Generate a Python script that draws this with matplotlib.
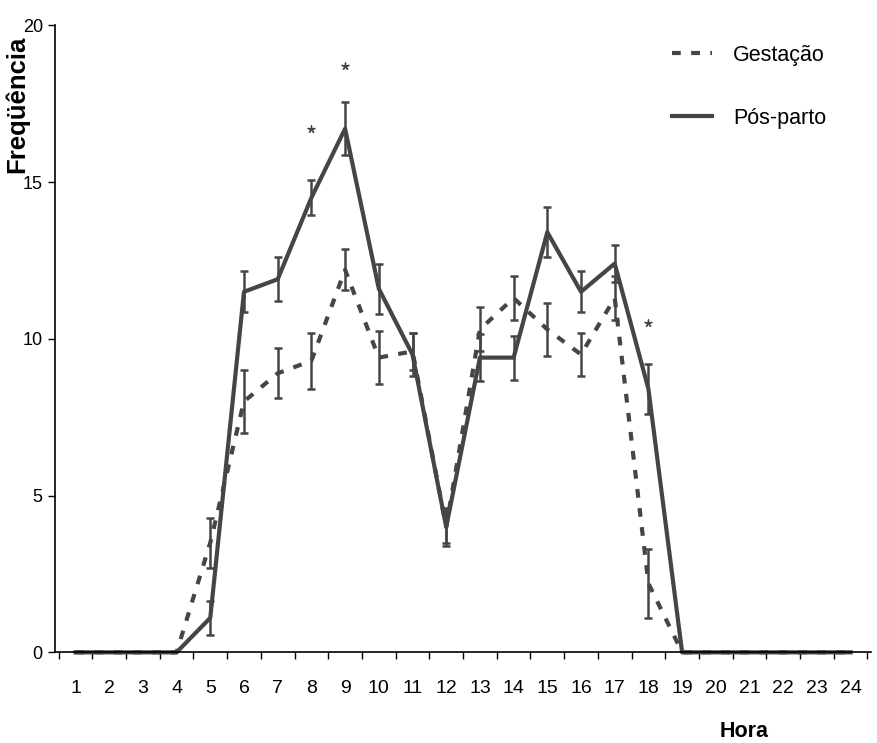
import numpy as np
import matplotlib
matplotlib.use("Agg")
import matplotlib.pyplot as plt

plt.rcParams['font.family'] = ['Liberation Sans', 'DejaVu Sans']

horas = list(range(1, 25))
# Gestação (dashed) and Pós-parto (solid), mean frequency per hour
gestacao = [0, 0, 0, 0, 3.5, 8.0, 8.9, 9.3, 12.2, 9.4, 9.6, 4.0,
            10.3, 11.3, 10.3, 9.5, 11.3, 2.2, 0, 0, 0, 0, 0, 0]
gestacao_err = [0, 0, 0, 0, 0.8, 1.0, 0.8, 0.9, 0.65, 0.85, 0.6, 0.5,
                0.7, 0.7, 0.85, 0.7, 0.7, 1.1, 0, 0, 0, 0, 0, 0]
posparto = [0, 0, 0, 0, 1.1, 11.5, 11.9, 14.5, 16.7, 11.6, 9.5, 4.0,
            9.4, 9.4, 13.4, 11.5, 12.4, 8.4, 0, 0, 0, 0, 0, 0]
posparto_err = [0, 0, 0, 0, 0.55, 0.65, 0.7, 0.55, 0.85, 0.8, 0.7, 0.6,
                0.75, 0.7, 0.8, 0.65, 0.6, 0.8, 0, 0, 0, 0, 0, 0]
# significance marks
star_horas = [8, 9, 18]
star_y = [16.7, 18.7, 10.5]

cor = '#454545'
x = np.array(horas)
g = np.array(gestacao)
p = np.array(posparto)
ge = np.array(gestacao_err)
pe = np.array(posparto_err)

fig = plt.figure(figsize=(8.77, 7.43), dpi=100)
ax = fig.add_axes([0.063, 0.122, 0.93, 0.844])

ax.plot(x, g, color=cor, lw=3.0, dashes=(2.1, 2.5), label='Gestação', clip_on=False)
ax.plot(x, p, color=cor, lw=3.0, label='Pós-parto', clip_on=False)

mg = ge > 0
ax.errorbar(x[mg], g[mg], yerr=ge[mg], fmt='none', ecolor=cor, elinewidth=1.8,
            capsize=3.2, capthick=1.8)
mp = pe > 0
ax.errorbar(x[mp], p[mp], yerr=pe[mp], fmt='none', ecolor=cor, elinewidth=1.8,
            capsize=3.2, capthick=1.8)

ax.scatter(star_horas, star_y, marker=(5, 2), s=25, color=cor, lw=1)

ax.set_xlim(0.4, 24.6)
ax.set_ylim(0, 20)
ax.spines['top'].set_visible(False)
ax.spines['right'].set_visible(False)
ax.spines['left'].set_linewidth(1.2)
ax.spines['bottom'].set_linewidth(1.2)

ax.set_yticks([0, 5, 10, 15, 20])
ax.tick_params(axis='y', direction='out', length=5, width=1, labelsize=13, pad=4)
ax.set_xticks(horas)
ax.set_xticklabels([str(h) for h in horas], family=['Liberation Sans Narrow', 'Liberation Sans'])
ax.tick_params(axis='x', which='major', length=0, labelsize=14, pad=20)
ax.set_xticks(np.arange(0.5, 25, 1), minor=True)
ax.tick_params(axis='x', which='minor', direction='out', length=5, width=1)

leg = ax.legend(loc='upper left', bbox_to_anchor=(0.732, 1.0), frameon=False,
                fontsize=15.5, labelspacing=1.95, handlelength=1.86, handletextpad=1.0)

fig.text(0.0194, 0.86, 'Freqüência', rotation=90, ha='center', va='center',
         fontsize=18.5, fontweight='bold')
fig.text(0.848, 0.016, 'Hora', ha='center', va='center', fontsize=15.5, fontweight='bold')

fig.savefig('out.png', dpi=100)
